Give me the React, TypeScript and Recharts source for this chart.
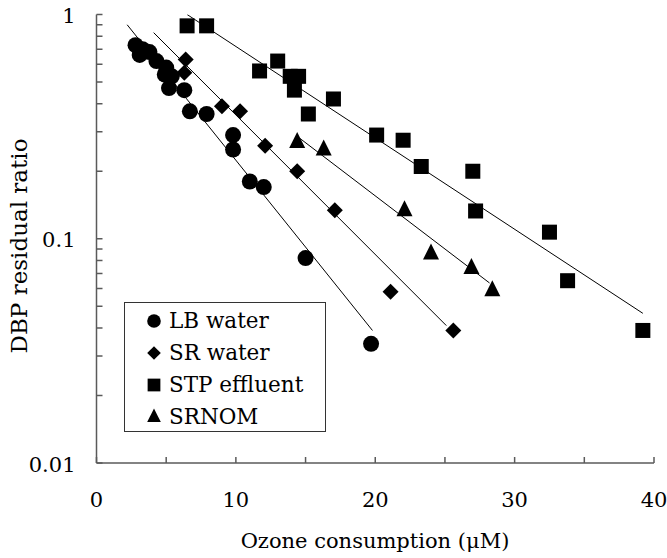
import { ScatterChart, Scatter, XAxis, YAxis } from 'recharts';

// LB water
const lbDose = [2.8, 3.3, 3.8, 3.1, 4.3, 5.0, 4.9, 5.4, 5.2, 6.3, 6.7, 7.9, 9.8, 9.8, 11.0, 12.0, 15.0, 19.7];
const lbRatio = [0.73, 0.7, 0.68, 0.66, 0.62, 0.58, 0.54, 0.53, 0.47, 0.46, 0.37, 0.36, 0.29, 0.25, 0.18, 0.17, 0.082, 0.034];
// SR water
const srDose = [6.4, 6.3, 9.0, 10.3, 12.1, 14.4, 17.1, 21.1, 25.6];
const srRatio = [0.63, 0.55, 0.39, 0.37, 0.26, 0.2, 0.134, 0.058, 0.039];
// STP effluent
const stpDose = [6.5, 7.9, 11.7, 13.0, 13.9, 14.5, 14.2, 15.2, 17.0, 20.1, 22.0, 23.3, 27.0, 27.2, 32.5, 33.8, 39.2];
const stpRatio = [0.89, 0.89, 0.56, 0.62, 0.53, 0.53, 0.46, 0.36, 0.42, 0.29, 0.275, 0.21, 0.2, 0.133, 0.107, 0.065, 0.039];
// SRNOM
const nomDose = [14.4, 16.3, 22.1, 24.0, 26.9, 28.4];
const nomRatio = [0.27, 0.25, 0.134, 0.086, 0.074, 0.059];

// fitted first-order decay lines (end points)
const lbFitDose = [2.2, 19.8];
const lbFitRatio = [0.9, 0.039];
const srFitDose = [4.1, 25.1];
const srFitRatio = [0.83, 0.041];
const stpFitDose = [6.5, 39.2];
const stpFitRatio = [1.0, 0.0465];
const nomFitDose = [14.6, 28.2];
const nomFitRatio = [0.28, 0.0635];

const xTicks = [0, 5, 10, 15, 20, 25, 30, 35, 40];
const xLabels = [0, 10, 20, 30, 40];
const yTicks = [
  0.01, 0.02, 0.03, 0.04, 0.05, 0.06, 0.07, 0.08, 0.09,
  0.1, 0.2, 0.3, 0.4, 0.5, 0.6, 0.7, 0.8, 0.9, 1,
];
const yLabels: Record<number, string> = { 0.01: '0.01', 0.1: '0.1', 1: '1' };

const FONT = '"DejaVu Serif", serif';
const AXIS = '#5a5a5a';

const pairs = (xs: number[], ys: number[]) => xs.map((x, i) => ({ x, y: ys[i] }));

const Dot = (p: any) => <circle cx={p.cx} cy={p.cy} r={8} fill="#000" />;
const Diamond = (p: any) => (
  <path d={`M${p.cx},${p.cy - 8}L${p.cx + 8},${p.cy}L${p.cx},${p.cy + 8}L${p.cx - 8},${p.cy}Z`} fill="#000" />
);
const Square = (p: any) => <rect x={p.cx - 7.5} y={p.cy - 7.5} width={15} height={15} fill="#000" />;
const Triangle = (p: any) => (
  <path d={`M${p.cx},${p.cy - 10}L${p.cx + 8},${p.cy + 6}L${p.cx - 8},${p.cy + 6}Z`} fill="#000" />
);
const NoDot = () => null;

const XTick = ({ x, y, payload }: any) => (
  <g>
    <line x1={x} y1={y} x2={x} y2={y - 6} stroke={AXIS} strokeWidth={1.5} />
    {xLabels.includes(payload.value) && (
      <text x={x} y={y + 38} textAnchor="middle" dominantBaseline="middle" fontFamily={FONT} fontSize={21} fill="#000">
        {payload.value}
      </text>
    )}
  </g>
);

const YTick = ({ x, y, payload }: any) => (
  <g>
    <line x1={x} y1={y} x2={x + 6} y2={y} stroke={AXIS} strokeWidth={1.5} />
    {yLabels[payload.value] && (
      <text x={x - 21} y={y + 3} textAnchor="end" dominantBaseline="middle" fontFamily={FONT} fontSize={21} fill="#000">
        {yLabels[payload.value]}
      </text>
    )}
  </g>
);

const legendItems = [
  { name: 'LB water', Mark: Dot },
  { name: 'SR water', Mark: Diamond },
  { name: 'STP effluent', Mark: Square },
  { name: 'SRNOM', Mark: Triangle },
];

// legend box sits inside the plot, lower left
const LegendBox = () => (
  <div
    style={{
      position: 'absolute',
      left: 124,
      top: 302,
      width: 200,
      height: 128,
      border: '1px solid #333',
      background: '#fff',
      fontFamily: FONT,
      fontSize: 21.5,
    }}
  >
    {legendItems.map(({ name, Mark }, i) => (
      <div key={name} style={{ position: 'absolute', left: 0, top: 3 + i * 32, height: 30, display: 'flex', alignItems: 'center' }}>
        <svg width={44} height={30} style={{ display: 'block' }}>
          <g transform="translate(29 15) scale(0.85) translate(-29 -15)">
            <Mark cx={29} cy={15} />
          </g>
        </svg>
        <span style={{ lineHeight: '30px', whiteSpace: 'nowrap' }}>{name}</span>
      </div>
    ))}
  </div>
);

export default function App() {
  return (
    <div style={{ position: 'absolute', left: 0, top: 0, width: 667, height: 558, background: '#fff' }}>
      <ScatterChart width={667} height={558} margin={{ top: 14.5, right: 13, bottom: 0, left: 0.5 }}>
        <XAxis
          type="number"
          dataKey="x"
          domain={[0, 40]}
          ticks={xTicks}
          height={95}
          tickSize={0}
          tickMargin={0}
          tickLine={false}
          tick={<XTick />}
          axisLine={{ stroke: AXIS, strokeWidth: 1.5 }}
          interval={0}
        />
        <YAxis
          type="number"
          dataKey="y"
          scale="log"
          domain={[0.01, 1]}
          allowDataOverflow
          ticks={yTicks}
          width={96}
          tickSize={0}
          tickMargin={0}
          tickLine={false}
          tick={<YTick />}
          axisLine={{ stroke: AXIS, strokeWidth: 1.5 }}
          interval={0}
        />
        <Scatter data={pairs(lbFitDose, lbFitRatio)} line={{ stroke: '#000', strokeWidth: 1 }} shape={NoDot} isAnimationActive={false} />
        <Scatter data={pairs(srFitDose, srFitRatio)} line={{ stroke: '#000', strokeWidth: 1 }} shape={NoDot} isAnimationActive={false} />
        <Scatter data={pairs(stpFitDose, stpFitRatio)} line={{ stroke: '#000', strokeWidth: 1 }} shape={NoDot} isAnimationActive={false} />
        <Scatter data={pairs(nomFitDose, nomFitRatio)} line={{ stroke: '#000', strokeWidth: 1 }} shape={NoDot} isAnimationActive={false} />
        <Scatter name="LB water" data={pairs(lbDose, lbRatio)} shape={Dot} isAnimationActive={false} />
        <Scatter name="SR water" data={pairs(srDose, srRatio)} shape={Diamond} isAnimationActive={false} />
        <Scatter name="STP effluent" data={pairs(stpDose, stpRatio)} shape={Square} isAnimationActive={false} />
        <Scatter name="SRNOM" data={pairs(nomDose, nomRatio)} shape={Triangle} isAnimationActive={false} />
      </ScatterChart>
      <LegendBox />
      <div
        style={{
          position: 'absolute',
          left: 375,
          top: 541,
          transform: 'translate(-50%, -50%)',
          fontFamily: FONT,
          fontSize: 21,
          whiteSpace: 'nowrap',
        }}
      >
        Ozone consumption (μM)
      </div>
      <div
        style={{
          position: 'absolute',
          left: 19,
          top: 246,
          transform: 'translate(-50%, -50%) rotate(-90deg)',
          fontFamily: FONT,
          fontSize: 23,
          whiteSpace: 'nowrap',
        }}
      >
        DBP residual ratio
      </div>
    </div>
  );
}
